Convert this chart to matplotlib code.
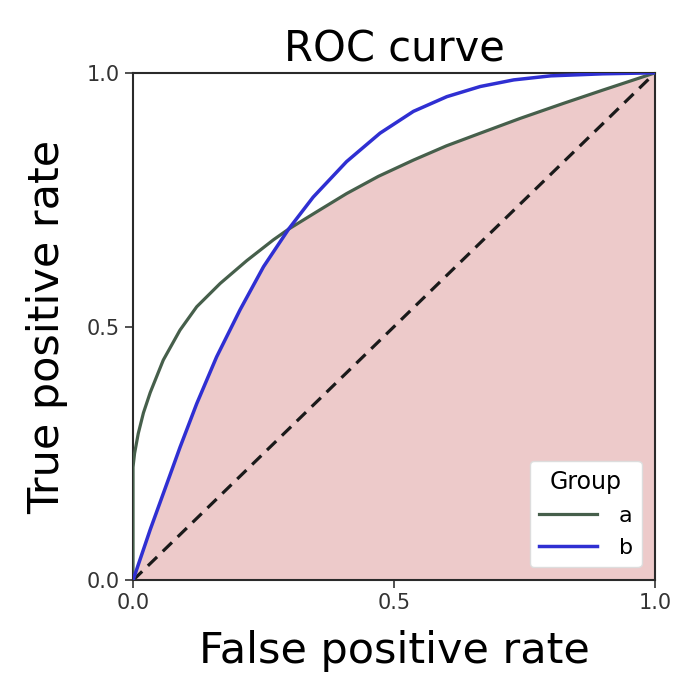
import matplotlib
matplotlib.use('Agg')
import matplotlib.pyplot as plt
import numpy as np

# ROC points
fpr_a = [0.0, 0.0, 0.003, 0.010, 0.020, 0.033, 0.058, 0.090, 0.122, 0.167, 0.218,
         0.269, 0.298, 0.350, 0.409, 0.470, 0.537, 0.600, 0.665, 0.741, 0.825,
         0.900, 1.0]
tpr_a = [0.0, 0.223, 0.250, 0.289, 0.330, 0.370, 0.434, 0.493, 0.539, 0.585, 0.630,
         0.671, 0.692, 0.725, 0.762, 0.796, 0.828, 0.856, 0.881, 0.910, 0.940,
         0.966, 1.0]

fpr_b = [0.0, 0.033, 0.070, 0.090, 0.122, 0.160, 0.205, 0.250, 0.298, 0.345,
         0.409, 0.473, 0.537, 0.601, 0.665, 0.729, 0.800, 0.900, 1.0]
tpr_b = [0.0, 0.100, 0.205, 0.262, 0.348, 0.440, 0.533, 0.618, 0.692, 0.755,
         0.825, 0.881, 0.924, 0.953, 0.973, 0.986, 0.994, 0.998, 1.0]

groups = ['a', 'b']
colors = ['#465f4b', '#2f2fd2']
ticks = [0.0, 0.5, 1.0]
cross = 0.298

fig = plt.figure(figsize=(7, 7), dpi=100)
ax = fig.add_axes([0.19, 0.171, 0.746, 0.725])

# shaded area under the lower of the two curves
fa = np.array(fpr_a)
ta = np.array(tpr_a)
fb = np.array(fpr_b)
tb = np.array(tpr_b)
fill_x = np.concatenate([fb[fb <= cross], fa[fa > cross]])
fill_y = np.concatenate([tb[fb <= cross], ta[fa > cross]])
ax.fill_between(fill_x, 0, fill_y, color='#edcaca', lw=0, zorder=1)

ax.plot(fpr_a, tpr_a, color=colors[0], lw=2.3, label=groups[0], zorder=3)
ax.plot(fpr_b, tpr_b, color=colors[1], lw=2.5, label=groups[1], zorder=3)
ax.plot([0, 1], [0, 1], color='#1a1a1a', lw=2.3, ls='--', dashes=(4, 2.5), zorder=2)

ax.set_xlim(0, 1)
ax.set_ylim(0, 1)
ax.set_xticks(ticks)
ax.set_yticks(ticks)
ax.tick_params(labelsize=15, length=6, width=1.2, colors='#333333')
for s in ax.spines.values():
    s.set_linewidth(1.5)
    s.set_color('#2a2a2a')

ax.set_title('ROC curve', fontsize=30, pad=8)
ax.set_xlabel('False positive rate', fontsize=31, labelpad=12)
ax.set_ylabel('True positive rate', fontsize=31, labelpad=13)

ax.legend(title='Group', loc='lower right', fontsize=16, title_fontsize=17,
          frameon=True, framealpha=1.0, edgecolor='#dddddd', fancybox=True,
          handlelength=2.6, labelspacing=0.55, borderaxespad=0.6,
          handletextpad=1.0)

fig.savefig('out.png', dpi=100)
